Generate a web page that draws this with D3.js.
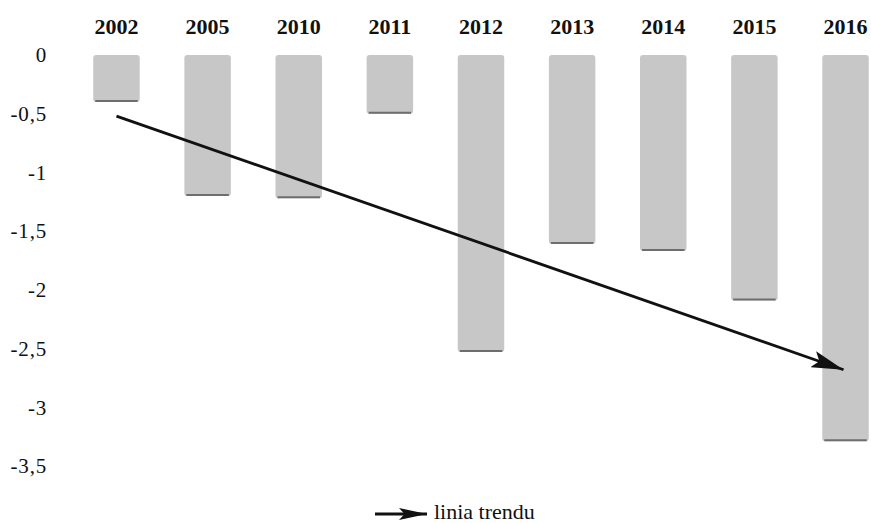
<!DOCTYPE html>
<html>
<head>
<meta charset="utf-8">
<script src="https://cdn.jsdelivr.net/npm/d3@7"></script>
<style>
  body { margin: 0; background: #fff; }
  svg { display: block; }
  svg text { font-family: "Liberation Serif", "Times New Roman", Times, serif; fill: #111; }
</style>
</head>
<body>
<svg id="chart" width="871" height="523"></svg>
<script>
// data
const years = ["2002", "2005", "2010", "2011", "2012", "2013", "2014", "2015", "2016"];
const values = [-0.4, -1.2, -1.22, -0.5, -2.53, -1.61, -1.67, -2.09, -3.29];
const yTicks = [0, -0.5, -1, -1.5, -2, -2.5, -3, -3.5];
// trend line end points (value at first and last year)
const trendYears = ["2002", "2016"];
const trendValues = [-0.52, -2.68];
const legendLabel = "linia trendu";

const svg = d3.select("#chart");

const x = d3.scaleBand()
  .domain(years)
  .range([70, 892])
  .paddingInner(0.49)
  .paddingOuter(0.255);

const y = d3.scaleLinear()
  .domain([0, -3.5])
  .range([55, 466]);

// polish style numbers: comma decimal, plain hyphen for minus
const locale = d3.formatLocale({ decimal: ",", thousands: " ", grouping: [3], currency: ["", ""], minus: "-" });
const fmt = locale.format("~g");

const defs = svg.append("defs");

defs.append("filter")
  .attr("id", "soft")
  .append("feGaussianBlur")
  .attr("stdDeviation", 0.7);

// arrow heads
function arrowHead(id, len, half) {
  defs.append("marker")
    .attr("id", id)
    .attr("markerUnits", "userSpaceOnUse")
    .attr("viewBox", `0 0 ${len} ${half * 2}`)
    .attr("markerWidth", len)
    .attr("markerHeight", half * 2)
    .attr("refX", len)
    .attr("refY", half)
    .attr("orient", "auto")
    .append("path")
    .attr("d", `M0,0 L${len},${half} L0,${half * 2} L${len * 0.2},${half} Z`)
    .attr("fill", "#111");
}
arrowHead("headBig", 32, 8.5);
arrowHead("headSmall", 28, 6);

// bars
const bars = svg.append("g").attr("filter", "url(#soft)");

bars.selectAll("rect")
  .data(values)
  .enter().append("rect")
  .attr("x", (d, i) => x(years[i]))
  .attr("y", y(0))
  .attr("width", x.bandwidth())
  .attr("height", d => y(d) - y(0))
  .attr("rx", 3)
  .attr("fill", "#c7c7c7");

// darker bottom edge of each bar
bars.selectAll("line")
  .data(values)
  .enter().append("line")
  .attr("x1", (d, i) => x(years[i]) + 2)
  .attr("x2", (d, i) => x(years[i]) + x.bandwidth() - 2)
  .attr("y1", d => y(d) - 1)
  .attr("y2", d => y(d) - 1)
  .attr("stroke", "#6e6e6e")
  .attr("stroke-width", 2);

// year labels on top
const topAxis = svg.append("g")
  .attr("transform", "translate(0,34)")
  .call(d3.axisTop(x).tickSize(0).tickPadding(0));
topAxis.select(".domain").remove();
topAxis.selectAll("text")
  .attr("font-size", 22)
  .attr("font-weight", "bold");

// value axis on the left
const leftAxis = svg.append("g")
  .attr("transform", "translate(47,0)")
  .call(d3.axisLeft(y).tickValues(yTicks).tickFormat(fmt).tickSize(0).tickPadding(0));
leftAxis.select(".domain").remove();
leftAxis.selectAll("text")
  .attr("font-size", 21)
  .attr("letter-spacing", 0.8);

// trend line
const cx = yr => x(yr) + x.bandwidth() / 2;
svg.append("line")
  .attr("x1", cx(trendYears[0]))
  .attr("y1", y(trendValues[0]))
  .attr("x2", cx(trendYears[1]) - 2)
  .attr("y2", y(trendValues[1]))
  .attr("stroke", "#111")
  .attr("stroke-width", 2.8)
  .attr("marker-end", "url(#headBig)");

// legend
const legend = svg.append("g").attr("transform", "translate(375,514)");
legend.append("line")
  .attr("x1", 0)
  .attr("x2", 52)
  .attr("y1", 0)
  .attr("y2", 0)
  .attr("stroke", "#111")
  .attr("stroke-width", 2.8)
  .attr("marker-end", "url(#headSmall)");
legend.append("text")
  .attr("x", 59)
  .attr("y", 5)
  .attr("font-size", 22)
  .text(legendLabel);
</script>
</body>
</html>
